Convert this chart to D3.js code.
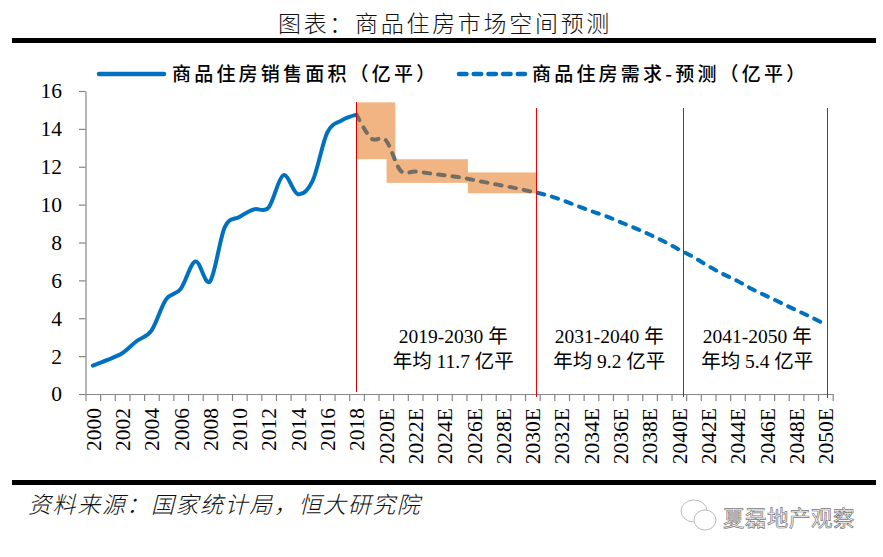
<!DOCTYPE html>
<html>
<head>
<meta charset="utf-8">
<script src="https://cdnjs.cloudflare.com/ajax/libs/d3/7.8.5/d3.min.js"></script>
<style>
  html, body { margin: 0; padding: 0; background: #fff; }
  svg { display: block; }
  .cjk { font-family: "Noto Sans CJK SC", sans-serif; }
  .num { font-family: "Liberation Serif", "Noto Sans CJK SC", serif; }
</style>
</head>
<body>
<div id="chart"></div>
<script>
const years = [
  '2000', '2001', '2002', '2003', '2004', '2005', '2006', '2007', '2008', '2009',
  '2010', '2011', '2012', '2013', '2014', '2015', '2016', '2017', '2018', '2019',
  '2020E', '2021E', '2022E', '2023E', '2024E', '2025E', '2026E', '2027E', '2028E', '2029E',
  '2030E', '2031E', '2032E', '2033E', '2034E', '2035E', '2036E', '2037E', '2038E', '2039E',
  '2040E', '2041E', '2042E', '2043E', '2044E', '2045E', '2046E', '2047E', '2048E', '2049E',
  '2050E'
];
const sales = [
  1.5, 1.8, 2.15, 2.8, 3.35, 5.0, 5.55, 7.0, 5.95, 8.8,
  9.35, 9.75, 9.85, 11.55, 10.55, 11.25, 13.8, 14.45, 14.75
];
const demand = [
  14.75, 13.5, 13.4, 11.8, 11.75, 11.65, 11.55, 11.45, 11.3, 11.15, 11.0, 10.85,
  10.67, 10.5, 10.25, 9.95, 9.66, 9.4, 9.08, 8.76, 8.42, 8.05,
  7.63, 7.23, 6.76, 6.34, 5.97, 5.54, 5.17, 4.8, 4.43, 4.07, 3.67
];
const demandStart = 18;
const yTicks = [0, 2, 4, 6, 8, 10, 12, 14, 16];

// forecast ranges, in year index / value terms
const rangeFrom = [18, 20.05, 25.6];
const rangeTo = [20.65, 25.6, 30.3];
const rangeHigh = [15.4, 12.4, 11.7];
const rangeLow = [12.4, 11.15, 10.6];

const dividers = [18.03, 30.3, 40.32, 50.15];
const dividerTop = [15.4, 15.1, 15.1, 15.1];
const dividerBottom = [0.1, -0.15, -0.15, -0.2];

const noteCenters = [24.6, 35.25, 45.35];
const noteLine1 = ['2019-2030 年', '2031-2040 年', '2041-2050 年'];
const noteLine2 = ['年均 11.7 亿平', '年均 9.2 亿平', '年均 5.4 亿平'];

// full-width punctuation written as escapes
const titleText = '图表\uFF1A商品住房市场空间预测';
const legendNames = ['商品住房销售面积\uFF08亿平\uFF09', '商品住房需求-预测\uFF08亿平\uFF09'];
const sourceText = '资料来源\uFF1A国家统计局\uFF0C恒大研究院';
const markText = '夏磊地产观察';

const width = 883;
const height = 557;
const margin = { top: 91, right: 50.3, bottom: 163, left: 85.5 };
const blue = '#0070C0';
const axisGrey = '#868686';

const svg = d3.select('#chart').append('svg')
  .attr('width', width)
  .attr('height', height);

const x = d3.scaleBand()
  .domain(years)
  .range([margin.left, width - margin.right]);
const xEdges = d3.scaleLinear()
  .domain([0, years.length])
  .range([margin.left, width - margin.right]);
const xIndex = i => x(years[0]) + x.bandwidth() / 2 + i * x.bandwidth();
const y = d3.scaleLinear()
  .domain([0, 16])
  .range([height - margin.bottom, margin.top]);

// rules above and below the chart
svg.selectAll('.rule')
  .data([38, 480])
  .enter()
  .append('rect')
  .attr('class', 'rule')
  .attr('x', 12)
  .attr('y', d => d)
  .attr('width', 864)
  .attr('height', 5)
  .attr('fill', '#000');

svg.append('text')
  .attr('class', 'cjk')
  .attr('x', 445)
  .attr('y', 32)
  .attr('text-anchor', 'middle')
  .style('font-size', '23px')
  .style('font-weight', 300)
  .style('letter-spacing', '2.7px')
  .style('fill', '#111')
  .text(titleText);

// legend
const legendRows = [
  { x1: 99, x2: 164, tx: 172, dash: null },
  { x1: 459, x2: 525, tx: 532, dash: '7.5 7.2' }
];
legendRows.forEach((row, i) => {
  svg.append('line')
    .attr('x1', row.x1)
    .attr('x2', row.x2)
    .attr('y1', 74)
    .attr('y2', 74)
    .style('stroke', blue)
    .style('stroke-width', 4.5)
    .style('stroke-linecap', 'round')
    .style('stroke-dasharray', row.dash);
  svg.append('text')
    .attr('class', 'cjk')
    .attr('x', row.tx)
    .attr('y', 81)
    .style('font-size', '19px')
    .style('font-weight', 500)
    .style('letter-spacing', '3.2px')
    .style('fill', '#000')
    .text(legendNames[i]);
});

// axes
const yAxis = svg.append('g')
  .attr('transform', `translate(${margin.left},0)`)
  .call(d3.axisLeft(y).tickValues(yTicks).tickSize(6.5).tickSizeOuter(0).tickPadding(17));
const xAxis = svg.append('g')
  .attr('transform', `translate(0,${y(0)})`)
  .call(d3.axisBottom(xEdges)
    .tickValues(d3.range(years.length + 1))
    .tickSize(7)
    .tickSizeOuter(0)
    .tickFormat(''));
const xLabels = svg.append('g')
  .attr('transform', `translate(0,${y(0)})`)
  .call(d3.axisBottom(x)
    .tickValues(years.filter((d, i) => i % 2 === 0))
    .tickSize(0)
    .tickPadding(0));
xLabels.select('.domain').remove();
xLabels.selectAll('text')
  .attr('class', 'num')
  .attr('transform', 'translate(0.5,14) rotate(-90)')
  .attr('x', 0)
  .attr('y', 0)
  .attr('dy', '0.34em')
  .attr('text-anchor', 'end')
  .style('font-size', '21.5px')
  .style('fill', '#000');
yAxis.selectAll('text')
  .attr('class', 'num')
  .style('font-size', '21.5px')
  .style('fill', '#000');
[yAxis, xAxis].forEach(axis => {
  axis.selectAll('.domain, .tick line').style('stroke', axisGrey).style('stroke-width', 1.2);
});

// series
const line = d3.line()
  .x(d => xIndex(d[0]))
  .y(d => y(d[1]))
  .curve(d3.curveCardinal.tension(0));

svg.append('path')
  .datum(sales.map((d, i) => [i, d]))
  .attr('d', line)
  .style('fill', 'none')
  .style('stroke', blue)
  .style('stroke-width', 4)
  .style('stroke-linecap', 'round');

svg.append('path')
  .datum(demand.map((d, i) => [i + demandStart, d]))
  .attr('d', line)
  .style('fill', 'none')
  .style('stroke', blue)
  .style('stroke-width', 4)
  .style('stroke-linecap', 'round')
  .style('stroke-dasharray', '6.5 8');

// translucent forecast ranges sit on top of the dashed line
svg.selectAll('.range')
  .data(rangeFrom)
  .enter()
  .append('rect')
  .attr('class', 'range')
  .attr('x', d => xIndex(d))
  .attr('y', (d, i) => y(rangeHigh[i]))
  .attr('width', (d, i) => xIndex(rangeTo[i]) - xIndex(d))
  .attr('height', (d, i) => y(rangeLow[i]) - y(rangeHigh[i]))
  .style('fill', '#E46C0A')
  .style('fill-opacity', 0.5);

svg.selectAll('.divider')
  .data(dividers)
  .enter()
  .append('line')
  .attr('class', 'divider')
  .attr('x1', d => xIndex(d))
  .attr('x2', d => xIndex(d))
  .attr('y1', (d, i) => y(dividerTop[i]))
  .attr('y2', (d, i) => y(dividerBottom[i]))
  .attr('shape-rendering', 'crispEdges')
  .style('stroke', (d, i) => (i === 0 ? '#C80000' : '#F00000'))
  .style('stroke-width', 1);

// period notes
noteCenters.forEach((c, i) => {
  [noteLine1[i], noteLine2[i]].forEach((t, j) => {
    svg.append('text')
      .attr('class', 'num')
      .attr('x', xIndex(c))
      .attr('y', 343 + j * 25)
      .attr('text-anchor', 'middle')
      .style('font-size', '19.5px')
      .style('fill', '#000')
      .text(t);
  });
});

svg.append('text')
  .attr('class', 'cjk')
  .attr('transform', 'translate(28,513) skewX(-14)')
  .style('font-size', '23px')
  .style('font-weight', 300)
  .style('letter-spacing', '1.6px')
  .style('fill', '#111')
  .text(sourceText);

// watermark
const mark = svg.append('g')
  .style('fill', '#fff')
  .style('stroke', '#aaa')
  .style('stroke-width', 0.8);
mark.append('ellipse').attr('cx', 694).attr('cy', 511).attr('rx', 13).attr('ry', 11);
mark.append('ellipse').attr('cx', 705).attr('cy', 520).attr('rx', 11).attr('ry', 10);
svg.append('text')
  .attr('class', 'cjk')
  .attr('x', 723)
  .attr('y', 526)
  .style('font-size', '21.5px')
  .style('letter-spacing', '0.5px')
  .style('fill', '#fff')
  .style('stroke', '#777')
  .style('stroke-width', 0.7)
  .text(markText);
</script>
</body>
</html>
